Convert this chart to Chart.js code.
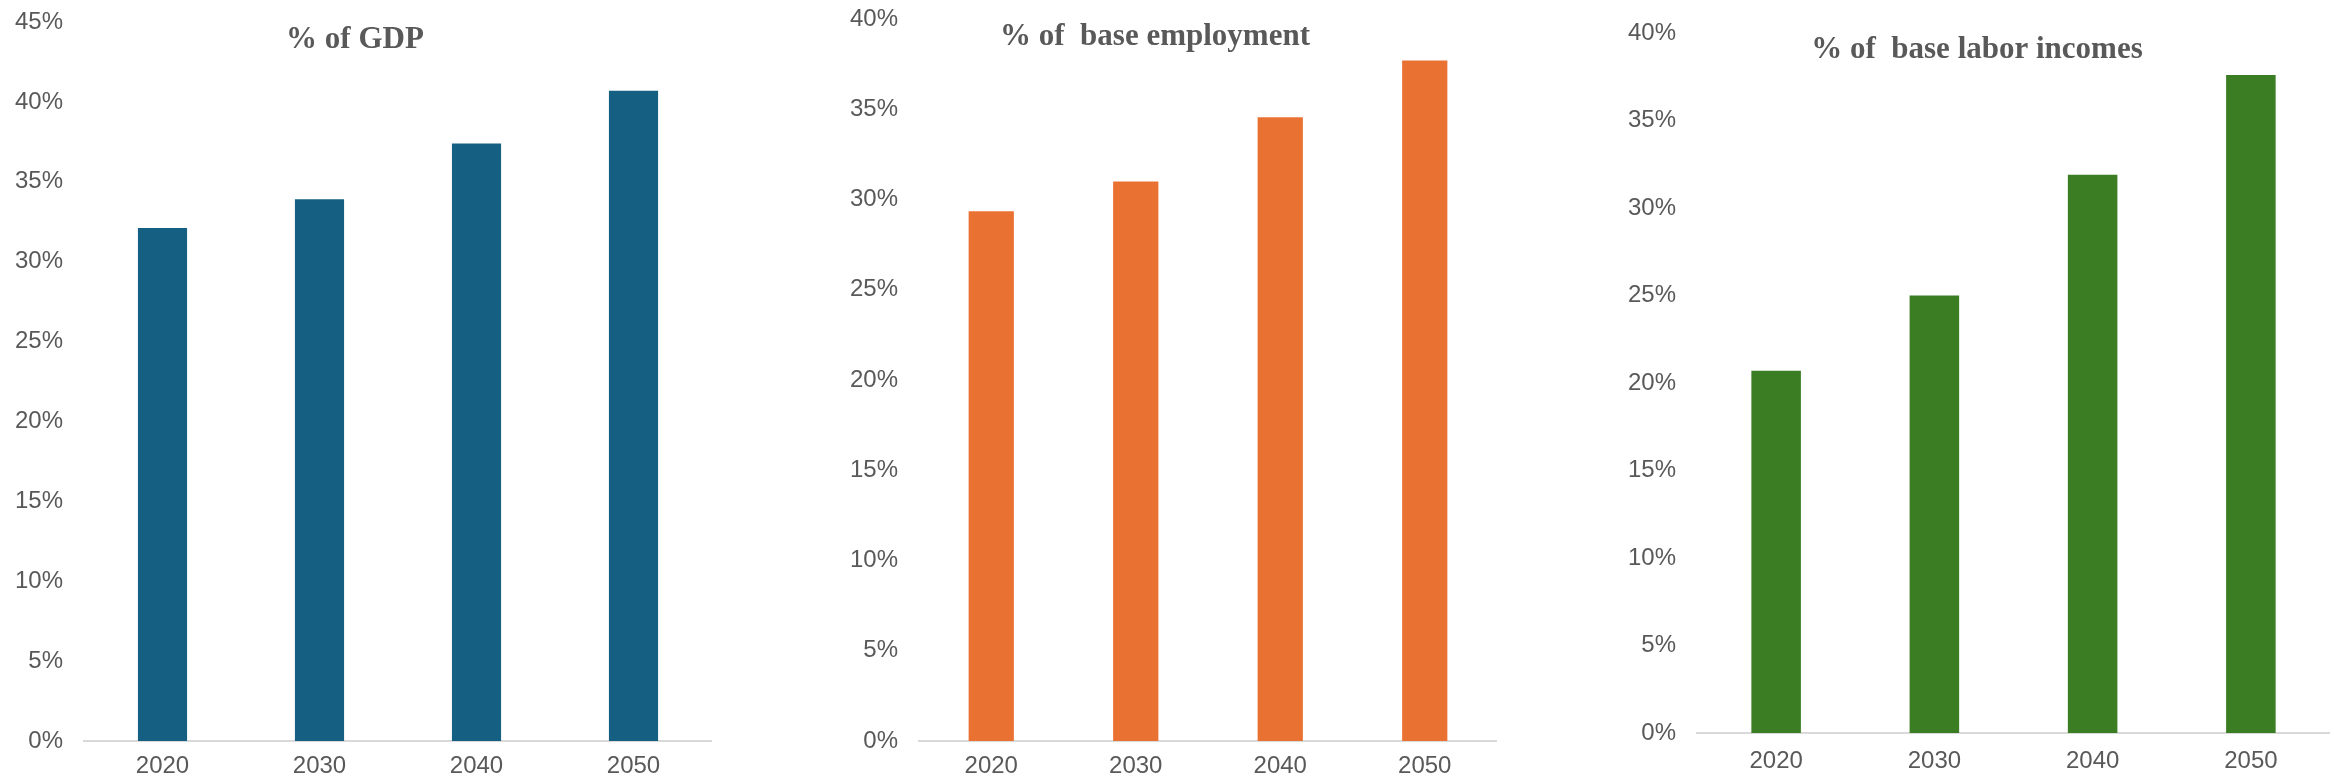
<!DOCTYPE html>
<html>
<head>
<meta charset="utf-8">
<script src="https://cdn.jsdelivr.net/npm/chart.js@4.4.1/dist/chart.umd.min.js"></script>
<style>
  html, body { margin: 0; padding: 0; background: #fff; }
  body { width: 2334px; height: 780px; position: relative; overflow: hidden; }
  canvas { position: absolute; top: 0; }
</style>
</head>
<body>
<canvas id="gdp" width="712" height="780" style="left:0px"></canvas>
<canvas id="employment" width="717" height="780" style="left:780px"></canvas>
<canvas id="income" width="770" height="780" style="left:1560px"></canvas>
<script>
const years = ["2020", "2030", "2040", "2050"];
const gdpShare = [32.1, 33.9, 37.4, 40.7];
const employmentShare = [29.35, 31.0, 34.55, 37.7];
const incomeShare = [20.7, 25.0, 31.9, 37.6];

const gdpTitle = "% of GDP";
const employmentTitle = "% of  base employment";
const incomeTitle = "% of  base labor incomes";

const textColor = "#595959";
const axisColor = "#d9d9d9";

// draws the panel heading over the plot, like the original
const panelTitle = {
  id: "panelTitle",
  afterDraw(chart, args, opts) {
    const ctx = chart.ctx;
    ctx.save();
    ctx.font = "bold 31px 'Liberation Serif', 'Times New Roman', serif";
    ctx.fillStyle = textColor;
    ctx.textAlign = "center";
    ctx.textBaseline = "alphabetic";
    ctx.fillText(opts.text, opts.x, opts.y);
    ctx.restore();
  },
};

function makeChart(id, values, color, yMax, title, box) {
  const ctx = document.getElementById(id).getContext("2d");
  return new Chart(ctx, {
    type: "bar",
    data: {
      labels: years,
      datasets: [
        {
          data: values,
          backgroundColor: color,
          barPercentage: 0.313,
          categoryPercentage: 1.0,
        },
      ],
    },
    options: {
      responsive: false,
      animation: false,
      layout: { padding: { top: box.top, bottom: 0, left: 0, right: 0 } },
      plugins: {
        legend: { display: false },
        tooltip: { enabled: false },
        panelTitle: { text: title, x: box.titleX, y: box.titleY },
      },
      scales: {
        x: {
          grid: { display: false, drawTicks: false },
          border: { display: true, color: axisColor, width: 2 },
          ticks: {
            color: textColor,
            padding: box.xPad,
            maxRotation: 0,
            font: { family: "'Liberation Sans', Arial, sans-serif", size: 24 },
          },
          afterFit: (s) => {
            s.height = box.xHeight;
          },
        },
        y: {
          min: 0,
          max: yMax,
          // hidden tick marks give the gap between labels and bars
          grid: { display: false, drawTicks: true, tickLength: 21 },
          border: { display: false },
          ticks: {
            stepSize: 5,
            color: textColor,
            padding: 0,
            font: { family: "'Liberation Sans', Arial, sans-serif", size: 24 },
            callback: (v) => v + "%",
          },
          afterFit: (s) => {
            s.width = box.yWidth;
          },
        },
      },
    },
    plugins: [panelTitle],
  });
}

makeChart("gdp", gdpShare, "#156082", 45, gdpTitle, {
  top: 22, xHeight: 39, xPad: 11, yWidth: 84, titleX: 355, titleY: 48,
});
makeChart("employment", employmentShare, "#e97132", 40, employmentTitle, {
  top: 19, xHeight: 39, xPad: 11, yWidth: 139, titleX: 375, titleY: 45,
});
makeChart("income", incomeShare, "#3b7d23", 40, incomeTitle, {
  top: 33, xHeight: 47, xPad: 14, yWidth: 137, titleX: 417, titleY: 58,
});
</script>
</body>
</html>
